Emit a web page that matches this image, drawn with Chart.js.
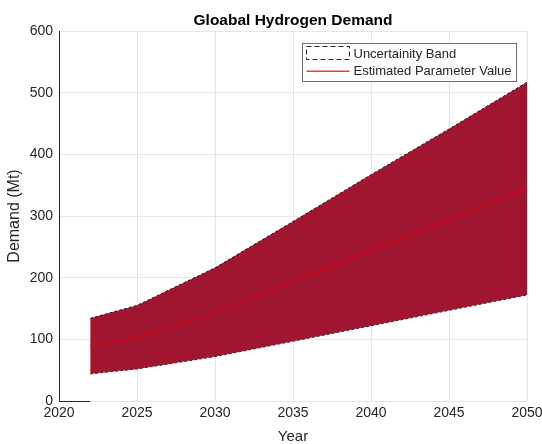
<!DOCTYPE html>
<html>
<head>
<meta charset="utf-8">
<script src="https://cdn.jsdelivr.net/npm/chart.js@4/dist/chart.umd.min.js"></script>
<style>
  html, body { margin: 0; padding: 0; background: #ffffff; }
  #wrap { width: 542px; height: 444px; }
</style>
</head>
<body>
<div id="wrap"><canvas id="c" width="542" height="444"></canvas></div>
<script>
// Global hydrogen demand projection (Mt)
const years      = [2022, 2025, 2030, 2035, 2040, 2045, 2050];
const estimate   = [89, 103, 144, 194, 245, 294, 345];
const upperBound = [134, 155, 216, 291, 367, 441, 517];
const lowerBound = [44, 52, 72, 97, 122, 147, 172];
const xTicks     = [2020, 2025, 2030, 2035, 2040, 2045, 2050];
const yTicks     = [0, 100, 200, 300, 400, 500, 600];

const FONT = 'Liberation Sans, Arial, Helvetica, sans-serif';
const BAND_FILL = '#a01530';
const LINE_RED = '#e0001a';
const TEXT = '#262626';

const pts = vals => years.map((x, i) => ({ x, y: vals[i] }));

// Title, short baseline segment and boxed legend
const decor = {
  id: 'decor',
  afterDraw(chart) {
    const { ctx, chartArea, scales } = chart;
    const xs = scales.x, ys = scales.y;
    ctx.save();

    // title
    ctx.fillStyle = '#000';
    ctx.font = 'bold 15.5px ' + FONT;
    ctx.textAlign = 'center';
    ctx.textBaseline = 'alphabetic';
    ctx.fillText('Gloabal Hydrogen Demand', (chartArea.left + chartArea.right) / 2, 25);

    // baseline from axis origin to the first data year
    ctx.strokeStyle = TEXT;
    ctx.lineWidth = 1;
    const y0 = Math.round(ys.getPixelForValue(0)) + 0.5;
    ctx.beginPath();
    ctx.moveTo(xs.getPixelForValue(xTicks[0]), y0);
    ctx.lineTo(xs.getPixelForValue(years[0]), y0);
    ctx.stroke();

    // legend box
    const labels = [chart.data.datasets[0].label, chart.data.datasets[2].label];
    ctx.font = '13px ' + FONT;
    const textW = Math.max(...labels.map(t => ctx.measureText(t).width));
    const boxR = chartArea.right - 11, boxT = Math.round(chartArea.top + 12) + 0.5;
    const boxW = 4 + 43 + 4 + textW + 5, boxH = 38;
    const boxL = Math.round(boxR - boxW) + 0.5;
    ctx.fillStyle = '#ffffff';
    ctx.fillRect(boxL, boxT, boxW, boxH);
    ctx.strokeStyle = '#707070';
    ctx.lineWidth = 1;
    ctx.strokeRect(boxL, boxT, boxW, boxH);

    const iconL = boxL + 4, iconR = iconL + 43;
    // band entry: dashed outline
    ctx.strokeStyle = '#222222';
    ctx.setLineDash([5, 3]);
    ctx.strokeRect(iconL, boxT + 3, 43, 13);
    ctx.setLineDash([]);
    // estimate entry: red line
    ctx.fillStyle = '#f03a3a';
    ctx.fillRect(iconL, boxT + 27, 43, 1.5);

    ctx.fillStyle = TEXT;
    ctx.textAlign = 'left';
    ctx.textBaseline = 'middle';
    ctx.fillText(labels[0], iconR + 4, boxT + 11);
    ctx.fillText(labels[1], iconR + 4, boxT + 28);
    ctx.restore();
  }
};

new Chart(document.getElementById('c'), {
  type: 'line',
  data: {
    datasets: [
      {
        label: 'Uncertainity Band',
        data: pts(upperBound),
        borderColor: '#1a1a1a',
        borderWidth: 1,
        borderDash: [3, 2],
        backgroundColor: BAND_FILL,
        fill: '+1',
        pointRadius: 0,
        tension: 0,
        order: 2
      },
      {
        label: 'lower',
        data: pts(lowerBound),
        borderColor: '#1a1a1a',
        borderWidth: 1,
        borderDash: [3, 2],
        fill: false,
        pointRadius: 0,
        tension: 0,
        order: 2
      },
      {
        label: 'Estimated Parameter Value',
        data: pts(estimate),
        borderColor: LINE_RED,
        borderWidth: 1.2,
        fill: false,
        pointRadius: 0,
        tension: 0,
        order: 1
      }
    ]
  },
  options: {
    responsive: false,
    animation: false,
    devicePixelRatio: 1,
    layout: { padding: { top: 31, right: 15, left: 0, bottom: 0 } },
    plugins: {
      legend: { display: false },
      title: { display: false },
      tooltip: { enabled: false }
    },
    scales: {
      x: {
        type: 'linear',
        min: 2020,
        max: 2050,
        afterBuildTicks: s => { s.ticks = xTicks.map(v => ({ value: v })); },
        afterFit: s => { s.height = 43; s.paddingLeft = 0; s.paddingRight = 0; },
        grid: { color: '#e6e6e6', drawTicks: false },
        border: { display: false },
        ticks: {
          color: TEXT, font: { family: FONT, size: 14 }, padding: 4, maxRotation: 0,
          callback: v => String(v)
        },
        title: {
          display: true, text: 'Year', color: TEXT,
          font: { family: FONT, size: 15, lineHeight: 1 },
          padding: { top: 0, bottom: 0 }
        }
      },
      y: {
        min: 0,
        max: 600,
        afterBuildTicks: s => { s.ticks = yTicks.map(v => ({ value: v })); },
        afterFit: s => { s.width = 59; },
        grid: { color: '#e6e6e6', drawTicks: false },
        border: { display: true, color: TEXT, width: 1 },
        ticks: { color: TEXT, font: { family: FONT, size: 14 }, padding: 6 },
        title: {
          display: true, text: 'Demand (Mt)', color: TEXT,
          font: { family: FONT, size: 16, lineHeight: 1 },
          padding: { top: 7, bottom: 0 }
        }
      }
    }
  },
  plugins: [decor]
});
</script>
</body>
</html>
